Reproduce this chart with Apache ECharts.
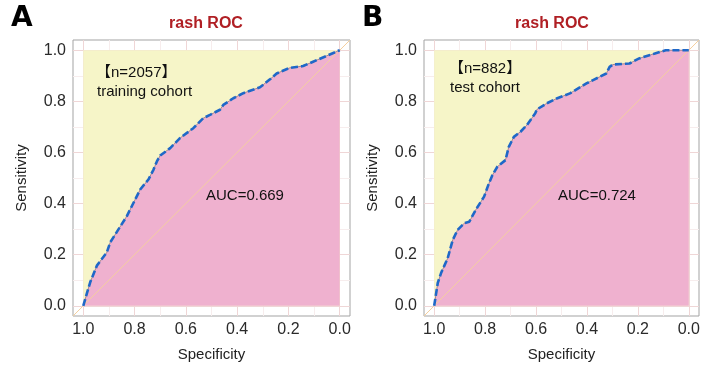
<!DOCTYPE html>
<html>
<head>
<meta charset="utf-8">
<script src="https://cdn.jsdelivr.net/npm/echarts@6/dist/echarts.min.js"></script>
<style>
  html, body { margin: 0; padding: 0; background: #fff; }
  #chart { width: 702px; height: 367px; }
</style>
</head>
<body>
<div id="chart"></div>
<script>
// ROC points (specificity, sensitivity)
const trainSpec = [1, 0.973, 0.947, 0.908, 0.895, 0.83, 0.778, 0.746, 0.726, 0.713, 0.7, 0.661, 0.623, 0.571, 0.532, 0.506, 0.467, 0.454, 0.415, 0.376, 0.311, 0.272, 0.246, 0.195, 0.143, 0.104, 0];
const trainSens = [0, 0.092, 0.157, 0.209, 0.248, 0.351, 0.455, 0.494, 0.533, 0.565, 0.588, 0.617, 0.656, 0.695, 0.734, 0.747, 0.767, 0.786, 0.812, 0.832, 0.855, 0.886, 0.909, 0.931, 0.938, 0.955, 1];

const testSpec = [1, 0.986, 0.973, 0.947, 0.927, 0.908, 0.882, 0.862, 0.837, 0.804, 0.785, 0.772, 0.752, 0.72, 0.707, 0.687, 0.661, 0.636, 0.603, 0.597, 0.558, 0.519, 0.467, 0.402, 0.376, 0.324, 0.311, 0.298, 0.233, 0.195, 0.13, 0.091, 0];
const testSens = [0, 0.089, 0.128, 0.186, 0.258, 0.297, 0.323, 0.329, 0.375, 0.427, 0.479, 0.51, 0.544, 0.57, 0.622, 0.661, 0.681, 0.707, 0.753, 0.768, 0.792, 0.811, 0.831, 0.87, 0.883, 0.909, 0.935, 0.944, 0.948, 0.968, 0.988, 1, 1];

const majorTicks = [0, 0.2, 0.4, 0.6, 0.8, 1];
const minorTicks = [0.1, 0.3, 0.5, 0.7, 0.9];
const axisMin = -0.04, axisMax = 1.04;

const panels = [
  { letter: "A", spec: trainSpec, sens: trainSens, n: "【n=2057】", cohort: "training cohort", auc: "AUC=0.669" },
  { letter: "B", spec: testSpec, sens: testSens, n: "【n=882】", cohort: "test cohort", auc: "AUC=0.724" },
];

const FONT = '"Liberation Sans", Arial, "Noto Sans CJK SC", sans-serif';
const gridPos = [
  { left: 73, top: 40, width: 277, height: 276 },
  { left: 424, top: 40, width: 275, height: 276 },
];

const zip = (a, b) => a.map((v, i) => [v, b[i]]);

function gridLines(idx) {
  const mk = (vals, color) => vals.flatMap((v) => [
    { xAxis: v, lineStyle: { color } },
    { yAxis: v, lineStyle: { color } },
  ]);
  return {
    type: "line", xAxisIndex: idx, yAxisIndex: idx, data: [], silent: true, z: 1,
    markLine: {
      silent: true, symbol: "none", z: 1, animation: false,
      label: { show: false },
      lineStyle: { type: "solid", width: 1 },
      data: [...mk(minorTicks, "#f7eded"), ...mk(majorTicks, "#efd6d6")],
    },
  };
}

const xAxes = [], yAxes = [], series = [];
panels.forEach((p, i) => {
  xAxes.push({
    gridIndex: i, type: "value", inverse: true, min: axisMin, max: axisMax,
    name: "Specificity", nameLocation: "middle", nameGap: 31,
    nameTextStyle: { fontFamily: FONT, fontSize: 15, color: "#222" },
    axisLine: { show: false },
    axisTick: { show: true, length: 4, customValues: majorTicks, lineStyle: { color: "#888" } },
    axisLabel: { customValues: majorTicks, margin: 6, fontFamily: FONT, fontSize: 16, color: "#2a2a2a",
      formatter: (v) => v.toFixed(1) },
    splitLine: { show: false },
  });
  yAxes.push({
    gridIndex: i, type: "value", min: axisMin, max: axisMax,
    name: "Sensitivity", nameLocation: "middle", nameGap: 44,
    nameTextStyle: { fontFamily: FONT, fontSize: 15, color: "#222" },
    axisLine: { show: false },
    axisTick: { show: true, length: 4, customValues: majorTicks, lineStyle: { color: "#888" } },
    axisLabel: { customValues: majorTicks, margin: 7, fontFamily: FONT, fontSize: 16, color: "#2a2a2a",
      formatter: (v) => v.toFixed(1) },
    splitLine: { show: false },
  });
  series.push(gridLines(i));
  // yellow panel over the unit square
  series.push({
    type: "line", xAxisIndex: i, yAxisIndex: i, z: 2, silent: true,
    data: [[1, 1], [0, 1]], showSymbol: false,
    lineStyle: { width: 0 }, areaStyle: { color: "#f6f5c8", opacity: 1 },
  });
  // pink area under ROC
  series.push({
    type: "line", xAxisIndex: i, yAxisIndex: i, z: 3, silent: true,
    data: zip(p.spec, p.sens), showSymbol: false,
    lineStyle: { width: 0.8, color: "#8d6f80" }, areaStyle: { color: "#efb1cf", opacity: 1 },
  });
  // chance diagonal
  series.push({
    type: "line", xAxisIndex: i, yAxisIndex: i, z: 4, silent: true,
    data: [[axisMax, axisMin], [axisMin, axisMax]], showSymbol: false,
    lineStyle: { width: 1, color: "#f4cf9e" },
  });
  // dashed ROC curve
  series.push({
    type: "line", xAxisIndex: i, yAxisIndex: i, z: 5, silent: true,
    data: zip(p.spec, p.sens), showSymbol: false,
    lineStyle: { width: 2.6, color: "#1f68c8", type: [7, 3] },
  });
});

const txt = (x, y, text, extra) => ({
  type: "text", x, y, z: 100, silent: true,
  style: Object.assign({ text, fontFamily: FONT, fontSize: 15, fill: "#111", align: "left", verticalAlign: "middle" }, extra),
});

const graphic = [
  txt(11, 19, "A", { fontSize: 28, fontWeight: 900, fontFamily: '"DejaVu Sans", sans-serif', fill: "#000" }),
  txt(362, 19, "B", { fontSize: 28, fontWeight: 900, fontFamily: '"DejaVu Sans", sans-serif', fill: "#000" }),
  txt(206, 24, "rash ROC", { fontSize: 16, fontWeight: "bold", fill: "#b01f24", align: "center" }),
  txt(552, 24, "rash ROC", { fontSize: 16, fontWeight: "bold", fill: "#b01f24", align: "center" }),
  txt(96, 73, panels[0].n), txt(97, 92, panels[0].cohort), txt(206, 196, panels[0].auc),
  txt(449, 69, panels[1].n), txt(450, 88, panels[1].cohort), txt(558, 196, panels[1].auc),
];

const chart = echarts.init(document.getElementById("chart"), null, { renderer: "canvas" });
chart.setOption({
  animation: false,
  backgroundColor: "#fff",
  grid: gridPos.map((g) => Object.assign({
    show: true, borderColor: "#a3a3a3", borderWidth: 1, backgroundColor: "#fff",
    containLabel: false, outerBoundsMode: "none",
  }, g)),
  xAxis: xAxes,
  yAxis: yAxes,
  series,
  graphic,
});
</script>
</body>
</html>
